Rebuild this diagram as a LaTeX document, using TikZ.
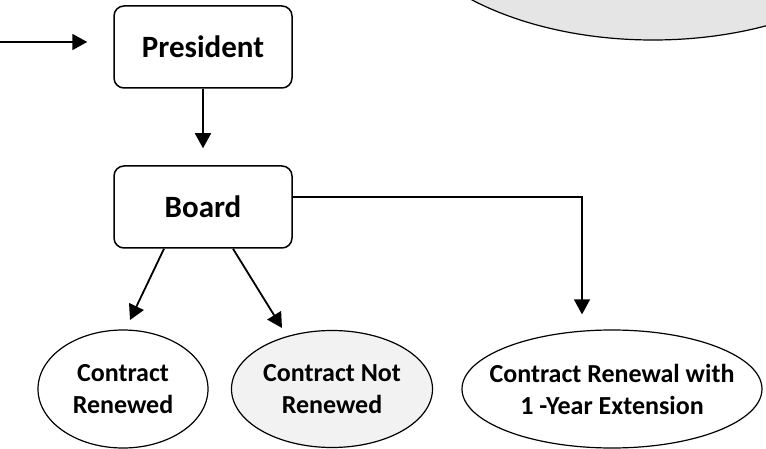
\documentclass[tikz,border=0pt]{standalone}
\usepackage{fontspec}
\setmainfont{Carlito}
\usetikzlibrary{arrows.meta,shapes.geometric}
\tikzset{
  box/.style={draw,line width=1.5pt,rounded corners=10pt,minimum width=178pt,minimum height=82pt,inner sep=0pt,
    font=\bfseries\fontsize{31}{38}\selectfont},
  oval/.style={draw,line width=1.2pt,ellipse,inner sep=0pt},
  arr/.style={line width=1.8pt,-{Triangle[length=15pt,width=16pt]}}
}
\begin{document}
\begin{tikzpicture}[x=1pt,y=-1pt,font=\bfseries\fontsize{26}{32}\selectfont]
\useasboundingbox (0,0) rectangle (766,449);
\clip (0,0) rectangle (766,449);

% step above, cut off by the page
\node[oval,fill=black!10,minimum width=532pt,minimum height=300pt] (meet) at (653,-110) {};

% boxes
\node[box] (pres) at (203,47) {President};
\node[box] (board) at (203,207) {Board};

% outcomes
\node[oval,minimum width=170pt,minimum height=118pt,
      label={[align=center]center:{Contract\\Renewed}}] (ren) at (123,389) {};
\node[oval,fill=black!5,minimum width=201pt,minimum height=117pt,
      label={[align=center]center:{Contract Not\\Renewed}}] (notren) at (332,389) {};
\node[oval,minimum width=300pt,minimum height=118pt,
      label={[align=center]center:{Contract Renewal with\\1 -Year Extension}}] (ext) at (612,389) {};

% connectors
\coordinate (src) at (0,42);
\coordinate (turn) at (582,197);
\coordinate (t1) at (130,320);
\coordinate (t2) at (282,328);
\draw[arr,shorten >=26pt] (src) -- (src -| pres.west);
\draw[arr,shorten >=17pt] (pres.south) -- (board.north);
\draw[arr] ([xshift=-39pt]board.south) -- (t1);
\draw[arr] ([xshift=30pt]board.south) -- (t2);
\draw[arr,line width=1.2pt,shorten >=15pt] (board.east |- turn) -- (turn) -- (turn |- ext.north);
\end{tikzpicture}
\end{document}
